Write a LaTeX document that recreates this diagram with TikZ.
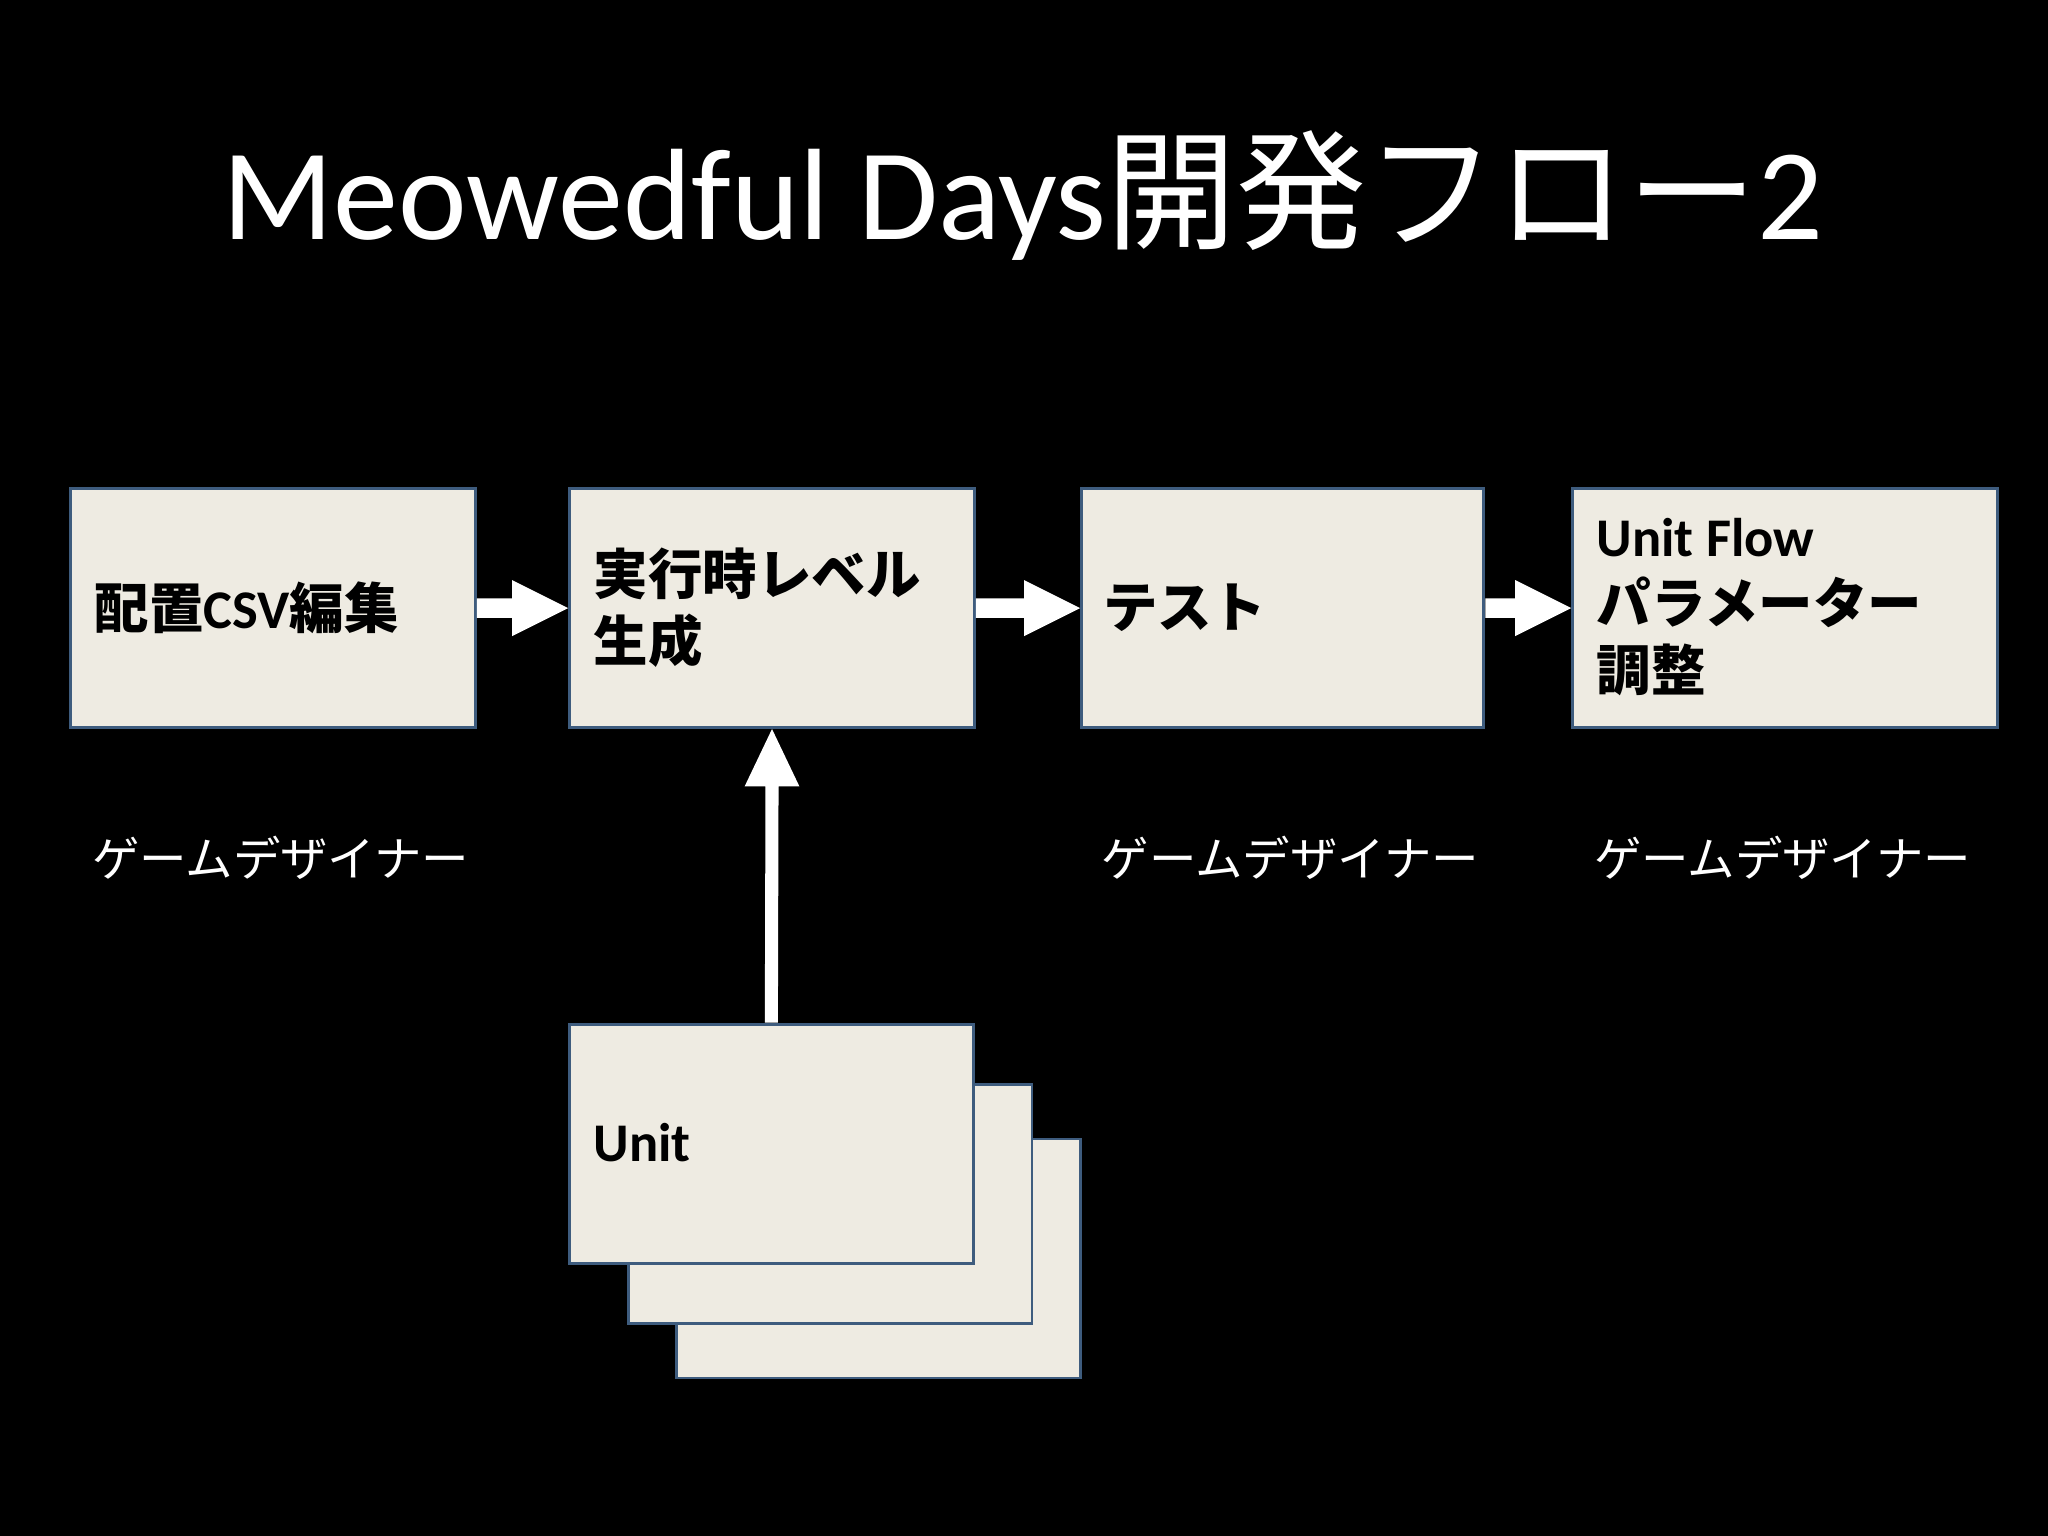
\documentclass[tikz,border=0pt]{standalone}
\usepackage{fontspec}
\usetikzlibrary{calc}
\setmainfont{Carlito}
\newfontfamily\jp{Noto Sans CJK JP}
\newlength{\ux}\setlength{\ux}{0.01306cm}
\definecolor{boxfill}{HTML}{EEEBE2}
\definecolor{boxline}{HTML}{3E5C7E}
\tikzset{
  box/.style={draw=boxline,fill=boxfill,line width=0.8pt,anchor=north west,minimum width=309\ux,minimum height=183\ux,inner sep=0pt},
  lbl/.style={text=black,font=\fontsize{15.5}{19}\selectfont\bfseries,anchor=west,align=left},
  role/.style={text=white,font=\fontsize{13.5}{16}\selectfont\jp,anchor=west,inner sep=0pt}
}
\begin{document}
\begin{tikzpicture}[x=0.01306cm,y=-0.01306cm]
\fill[black] (0,0) rectangle (1568,1176);
\node[text=white,font=\fontsize{37}{44}\selectfont] (title) at (783,150) {Meowedful Days{\jp 開発フロー}2};
% unit stack
\node[box] (u3) at (517,871) {};
\node[box] (u2) at (480,829) {};
\node[box] (u1) at (435,783) {};
\node[lbl] at (445,875) {Unit};
\node[box,minimum width=310\ux] (b1) at (53,373) {};
\node[box,minimum width=310\ux] (b2) at (435,373) {};
\node[box,minimum width=308\ux] (b3) at (827,373) {};
\node[box,minimum width=325\ux] (b4) at (1203,373) {};
\node[lbl] at (63,465) {\jp 配置{\rmfamily\bfseries CSV}編集};
\node[lbl] at (445,465) {\jp 実行時レベル\\\jp 生成};
\node[lbl] at (835,465) {\jp テスト};
\node[lbl] at (1213,465) {Unit Flow\\\jp パラメーター\\\jp 調整};
\node[role] (r1) at (70,657) {ゲームデザイナー};
\node[role] (r3) at (843,657) {ゲームデザイナー};
\node[role] (r4) at (1220,657) {ゲームデザイナー};
% horizontal block arrows
\foreach \a/\b in {b1/b2,b2/b3,b3/b4}{
  \path (\a.east) coordinate (s) (\b.west) coordinate (e);
  \fill[white] ($(s)+(0,-7.5)$) -- ($(e)+(-43,-7.5)$) -- ($(e)+(-43,-21.5)$) -- (e) -- ($(e)+(-43,21.5)$) -- ($(e)+(-43,7.5)$) -- ($(s)+(0,7.5)$) -- cycle;
}
% vertical arrow
\path (u1.north) coordinate (vs) (b2.south) coordinate (ve);
\fill[white] ($(vs)+(-5,0)$) -- ($(ve)+(-5,44)$) -- ($(ve)+(-21,44)$) -- (ve) -- ($(ve)+(21,44)$) -- ($(ve)+(5,44)$) -- ($(vs)+(5,0)$) -- cycle;
\end{tikzpicture}
\end{document}
